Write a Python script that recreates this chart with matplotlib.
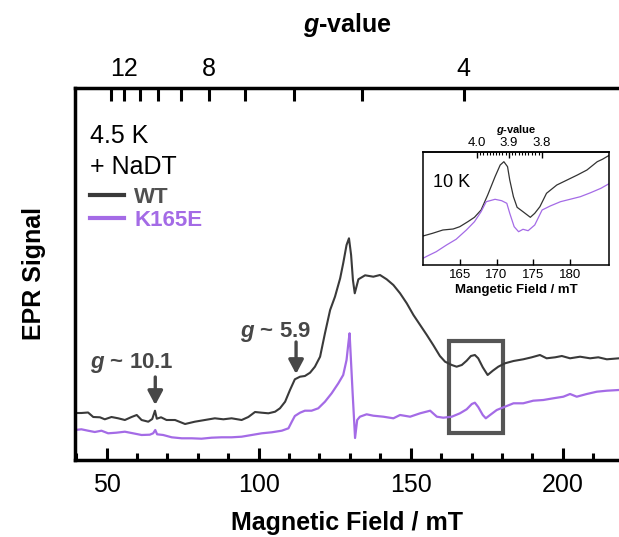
import numpy as np
import matplotlib
matplotlib.use("Agg")
import matplotlib.pyplot as plt
from matplotlib.lines import Line2D
from matplotlib.patches import Rectangle
from matplotlib.ticker import MultipleLocator, FixedLocator

plt.rcParams["font.family"] = ["Liberation Sans", "DejaVu Sans"]
plt.rcParams["mathtext.fontset"] = "custom"
plt.rcParams["mathtext.it"] = "Liberation Sans:italic:bold"

# h*nu / mu_B in mT for the X-band microwave frequency
K_FIELD = 669.5

WT_COLOR = "#3a3a3a"
WT_TEXT = "#505050"
MUT_COLOR = "#a46be6"
ANNOT = "#474747"

# 4.5 K spectra (field in mT, signal in arbitrary units)
wt_field = [39.6, 41.7, 43.9, 45.6, 47.8, 49.4, 51.6, 53.8, 56.0, 58.2, 59.9, 61.5,
            63.7, 65.0, 65.9, 66.5, 67.9, 69.7, 72.5, 75.8, 79.0, 82.3, 85.6, 88.4,
            91.1, 94.4, 96.6, 98.8, 101.0, 103.2, 105.4, 107.0, 108.7, 110.3, 111.9,
            113.6, 115.2, 116.9, 118.5, 120.2, 121.8, 123.5, 125.1, 126.8, 127.8,
            128.9, 129.7, 130.4, 131.0, 131.6, 132.8, 135.0, 137.7, 139.9, 142.1,
            144.3, 146.5, 148.7, 150.9, 153.1, 155.3, 157.4, 159.6, 161.3, 163.5,
            165.1, 166.8, 168.4, 169.8, 171.1, 172.2, 173.7, 175.3, 177.0, 178.8,
            181.0, 183.8, 187.0, 189.8, 192.5, 194.7, 197.5, 199.7, 202.4, 205.7,
            209.0, 211.7, 214.5, 218.5]
wt_signal = [47, 47, 47.5, 43, 42.7, 40.7, 43, 41.7, 40, 43, 45, 40,
             38.3, 41, 49.3, 41.3, 42.7, 40, 40, 36, 38.3, 40, 41.7, 40.7,
             41.7, 40, 43, 48, 47.3, 46.7, 48.3, 51.7, 58.3, 70, 80.7,
             83.3, 84, 87.3, 93.3, 103.3, 126.7, 150, 163.3, 181.7, 196.7,
             215, 221.7, 205, 180, 166.7, 180.7, 184.7, 183.3, 185, 180.7,
             175, 166.7, 156.7, 145, 135, 125, 115, 104, 98.3, 95,
             93.3, 95, 99.3, 104, 105, 101.7, 92.7, 85, 89.3, 93.3,
             96.7, 99, 100.7, 102.7, 105, 101.7, 102.7, 104, 101.7, 103.3,
             101.7, 102.7, 100.7, 101.7]

k165e_field = [39.6, 41.7, 43.9, 46.1, 48.3, 50.5, 53.2, 56.0, 58.7, 61.5, 64.2,
               65.3, 66.0, 66.6, 68.6, 71.4, 74.7, 78.0, 81.2, 84.5, 87.8, 91.1,
               94.4, 97.7, 101.0, 104.3, 107.6, 109.8, 110.9, 111.9, 113.6, 115.2,
               117.4, 119.6, 121.8, 124.0, 126.2, 127.8, 128.9, 129.5, 129.9, 130.9,
               131.7, 132.4, 133.3, 135.5, 137.7, 141.0, 144.3, 146.5, 149.8, 153.1,
               156.4, 158.6, 160.7, 163.5, 166.2, 168.4, 170.1, 171.1, 172.2, 173.7,
               174.7, 176.1, 178.3, 180.5, 183.8, 187.0, 190.3, 193.6, 196.9, 200.2,
               202.4, 204.6, 207.9, 211.2, 214.5, 218.5]
k165e_signal = [30, 30.7, 29.3, 28, 29.3, 26.7, 27.3, 28.3, 26.7, 25, 25.3,
                26.7, 30, 25.7, 25, 22.7, 21.7, 21.7, 21.3, 22.3, 22.7, 22.7,
                23.3, 25, 26.7, 27.7, 29.3, 31.7, 38.3, 44, 47.3, 49.3,
                49.3, 51.7, 58.3, 66.7, 76.7, 85, 100, 116.7, 126.7, 67,
                22, 40, 43.3, 45.7, 44.3, 43.3, 41.7, 45, 43.3, 46.7,
                49.3, 43.3, 42.3, 43.3, 46.7, 50.7, 56, 57.3, 53, 45,
                41.7, 45, 50, 52.7, 56.7, 56.7, 59.3, 60, 61.7, 63.3,
                66, 63.3, 66, 68.3, 69.3, 70]

# 10 K close-up of the g ~ 4 region
inset_wt_field = [160.0, 161.3, 162.7, 164.1, 165.0, 166.1, 167.0, 167.9, 168.8,
                  169.8, 170.5, 171.0, 171.5, 171.8, 172.3, 172.8, 173.6, 174.6,
                  175.2, 175.9, 176.8, 178.2, 179.6, 181.0, 182.3, 183.7, 184.4, 185.4]
inset_wt_signal = [29, 31.7, 35, 36, 38.3, 43.3, 47.7, 55, 70,
                   88.3, 100, 103.3, 98.3, 85, 68.3, 57.7, 53.3, 47.7,
                   51.7, 58.3, 71.7, 80, 85, 90, 95, 103.3, 105.7, 110]
inset_k165e_field = [160.0, 160.6, 161.8, 163.2, 164.5, 165.9, 167.0, 167.9, 168.6,
                     169.8, 170.7, 171.4, 171.8, 172.4, 173.0, 173.6, 174.3, 175.2,
                     176.2, 177.3, 178.7, 180.0, 181.4, 182.8, 184.2, 185.4]
inset_k165e_signal = [6.7, 9, 13.3, 20, 25.7, 35, 43.3, 53.3, 63.3,
                      65.7, 64.3, 61.7, 51.7, 38.3, 33.3, 35.7, 34.3, 40,
                      55, 59, 63.3, 65.7, 68.3, 72.3, 76.7, 81.7]

g_ticks = [13, 12, 11, 10, 9, 8, 7, 6, 5, 4]
g_tick_labels = ["", "12", "", "", "", "8", "", "", "", "4"]
inset_field_ticks = [165, 170, 175, 180]
inset_g_ticks = [4.0, 3.9, 3.8]


def field_to_g(b):
    b = np.asarray(b, dtype=float)
    with np.errstate(divide="ignore", invalid="ignore"):
        return K_FIELD / b


fig = plt.figure(figsize=(6.19, 5.37), dpi=100)
ax = fig.add_axes([75 / 619, 77 / 537, 544 / 619, 372 / 537])

ax.plot(wt_field, wt_signal, color=WT_COLOR, lw=1.5)
ax.plot(k165e_field, k165e_signal, color=MUT_COLOR, lw=1.6)
ax.set_xlim(39.6, 218.5)
ax.set_ylim(0, 372)

ax.spines["right"].set_visible(False)
ax.spines["top"].set_visible(False)
for side in ("left", "bottom"):
    ax.spines[side].set_linewidth(2.5)
ax.set_yticks([])
ax.xaxis.set_major_locator(MultipleLocator(50))
ax.xaxis.set_minor_locator(MultipleLocator(10))
ax.tick_params(axis="x", which="major", direction="in", length=9, width=2.2,
               labelsize=18, pad=9)
ax.tick_params(axis="x", which="minor", direction="in", length=5, width=2.2)

# g-value scale along the top
gax = ax.secondary_xaxis("top", functions=(field_to_g, field_to_g))
gax.spines["top"].set_linewidth(2.5)
gax.set_xticks(g_ticks)
gax.set_xticklabels(g_tick_labels)
gax.xaxis.set_minor_locator(FixedLocator([]))
gax.tick_params(axis="x", which="major", direction="in", length=9.5, width=2.2,
                labelsize=18, pad=5)

fig.text(347 / 619, 1 - 32 / 537, r"$g$-value", fontsize=18, fontweight="bold",
         ha="center", va="baseline")
fig.text(347 / 619, 1 - 530 / 537, "Magnetic Field / mT", fontsize=18,
         fontweight="bold", ha="center", va="baseline")
fig.text(34 / 619, 1 - 274 / 537, "EPR Signal", fontsize=18, fontweight="bold",
         rotation=90, ha="center", va="center")

# sample conditions and legend
ax.text(0.0276, 0.852, "4.5 K", transform=ax.transAxes, fontsize=18, va="baseline")
ax.text(0.028, 0.769, "+ NaDT", transform=ax.transAxes, fontsize=18, va="baseline")
handles = [Line2D([], [], color=WT_COLOR, lw=3), Line2D([], [], color=MUT_COLOR, lw=3)]
ax.legend(handles, ["WT", "K165E"], loc="upper left", bbox_to_anchor=(0.0276, 0.735),
          frameon=False, prop={"weight": "bold", "size": 16},
          labelcolor=[WT_TEXT, MUT_COLOR], handlelength=1.55, handletextpad=0.45,
          labelspacing=0.12, borderpad=0, borderaxespad=0)

# g ~ 10.1 and g ~ 5.9 markers
arrow = dict(arrowstyle="-|>,head_length=0.6,head_width=0.32", color=ANNOT, lw=2.4,
             mutation_scale=14, shrinkA=0, shrinkB=0)
ax.annotate("", xy=(66.0, 55), xytext=(66.0, 83), arrowprops=arrow)
ax.text(44.5, 92, r"$g$ ~ 10.1", fontsize=16, fontweight="bold", color=ANNOT)
ax.annotate("", xy=(112.3, 86), xytext=(112.3, 118), arrowprops=arrow)
ax.text(93.7, 123, r"$g$ ~ 5.9", fontsize=16, fontweight="bold", color=ANNOT)

ax.add_patch(Rectangle((162.6, 27.3), 17.8, 92, fill=False, ec="#555555", lw=3))

# inset: 10 K spectra around g ~ 4
ins = fig.add_axes([423 / 619, 272 / 537, 186 / 619, 113 / 537])
ins.plot(inset_wt_field, inset_wt_signal, color="#333333", lw=0.9)
ins.plot(inset_k165e_field, inset_k165e_signal, color=MUT_COLOR, lw=0.9)
ins.set_xlim(160, 185.3)
ins.set_ylim(0, 113)
for side in ins.spines.values():
    side.set_linewidth(1.1)
ins.set_yticks([])
ins.xaxis.set_major_locator(FixedLocator(inset_field_ticks))
ins.tick_params(axis="x", direction="in", length=4, width=1, labelsize=9.5, pad=3)
ins.set_xlabel("Mangetic Field / mT", fontsize=9.5, fontweight="bold", labelpad=2)
ins.text(0.054, 0.69, "10 K", transform=ins.transAxes, fontsize=13, va="baseline")

ing = ins.secondary_xaxis("top", functions=(field_to_g, field_to_g))
ing.spines["top"].set_linewidth(1.1)
ing.set_xticks(inset_g_ticks)
ing.set_xticklabels(["4.0", "3.9", "3.8"])
ing.xaxis.set_minor_locator(FixedLocator(np.round(np.arange(3.80, 4.005, 0.01), 2)))
ing.tick_params(axis="x", which="major", direction="in", length=4, width=1,
                labelsize=9.5, pad=2)
ing.tick_params(axis="x", which="minor", direction="in", length=2.5, width=0.8)
ing.set_xlabel(r"$g$-value", fontsize=8, fontweight="bold", labelpad=3)

fig.savefig("out.png", dpi=100)
